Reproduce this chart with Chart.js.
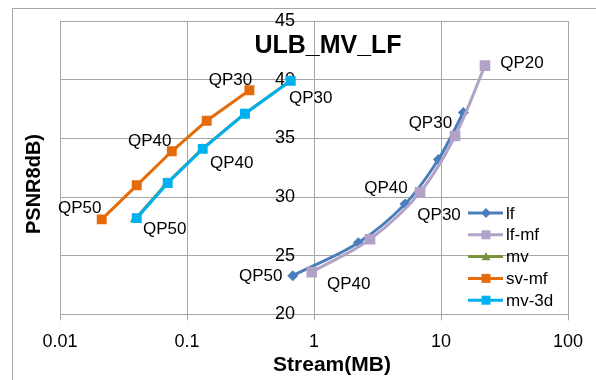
<!DOCTYPE html>
<html>
<head>
<meta charset="utf-8">
<script src="https://cdn.jsdelivr.net/npm/chart.js@4.4.0/dist/chart.umd.min.js"></script>
<style>
  html, body { margin: 0; padding: 0; background: #fff; }
  #wrap { width: 596px; height: 380px; }
</style>
</head>
<body>
<div id="wrap"><canvas id="rdChart" width="596" height="380"></canvas></div>
<script>
// values (stream in MB, PSNR in dB)
var lfStream = [0.68, 2.23, 5.21, 9.53, 15.0];
var lfPsnr = [23.3, 26.1, 29.4, 33.2, 37.2];
var lfmfStream = [0.96, 2.76, 6.84, 12.9, 22.2];
var lfmfPsnr = [23.6, 26.4, 30.4, 35.2, 41.2];
var mvStream = [0.039, 0.0695, 0.132, 0.284, 0.65];
var mvPsnr = [28.1, 31.2, 34.1, 37.1, 39.9];
var svmfStream = [0.0213, 0.0402, 0.0759, 0.143, 0.310];
var svmfPsnr = [28.1, 31.0, 33.9, 36.5, 39.1];
var mv3dStream = [0.0402, 0.0705, 0.133, 0.286, 0.656];
var mv3dPsnr = [28.2, 31.2, 34.1, 37.1, 39.9];

var lfQp = ['QP50', '', 'QP40', '', 'QP30'];
var lfmfQp = ['QP40', '', 'QP30', '', 'QP20'];
var svmfQp = ['QP50', '', 'QP40', '', 'QP30'];
var mv3dQp = ['QP50', '', 'QP40', '', 'QP30'];

var xTicks = [0.01, 0.1, 1, 10, 100];
var xTickLabels = ['0.01', '0.1', '1', '10', '100'];
var yTicks = [20, 25, 30, 35, 40, 45];

var chartTitle = 'ULB_MV_LF';
var xTitle = 'Stream(MB)';
var yTitle = 'PSNR8dB)';

function pts(xs, ys) {
  var out = [];
  for (var i = 0; i < xs.length; i++) out.push({ x: xs[i], y: ys[i] });
  return out;
}

var FONT = "'Liberation Sans', Arial, sans-serif";
var GRID = '#a6a6a6';

// offsets of the QP text from its point, in pixels
var qpOffsets = {
  'lf': [[-32, 1], null, [-19, -16], null, [-33, 11]],
  'lf-mf': [[37, 12], null, [19, 23], null, [37, -2]],
  'sv-mf': [[-22, -11], null, [-22, -10], null, [-19, -10]],
  'mv-3d': [[28, 11], null, [29, 14], null, [20, 17]]
};

var qpLabelPlugin = {
  id: 'qpLabels',
  afterDatasetsDraw: function (chart) {
    var ctx = chart.ctx;
    ctx.save();
    ctx.font = '17px ' + FONT;
    ctx.fillStyle = '#000';
    ctx.textAlign = 'center';
    ctx.textBaseline = 'middle';
    chart.data.datasets.forEach(function (ds, di) {
      if (!ds.qp) return;
      var meta = chart.getDatasetMeta(di);
      var offs = qpOffsets[ds.label];
      ds.qp.forEach(function (t, i) {
        if (!t || !offs[i]) return;
        var p = meta.data[i];
        ctx.fillText(t, p.x + offs[i][0], p.y + offs[i][1]);
      });
    });
    ctx.restore();
  }
};

function marker(ctx, style, x, y, r) {
  ctx.beginPath();
  if (style === 'rect') {
    ctx.rect(x - r, y - r, 2 * r, 2 * r);
  } else if (style === 'rectRot') {
    ctx.moveTo(x, y - r); ctx.lineTo(x + r, y); ctx.lineTo(x, y + r); ctx.lineTo(x - r, y);
    ctx.closePath();
  } else {
    ctx.moveTo(x, y - r); ctx.lineTo(x + r, y + r * 0.8); ctx.lineTo(x - r, y + r * 0.8);
    ctx.closePath();
  }
  ctx.fill();
}

var decorPlugin = {
  id: 'decor',
  beforeDraw: function (chart) {
    var ctx = chart.ctx;
    ctx.save();
    ctx.fillStyle = '#fff';
    ctx.fillRect(0, 0, chart.width, chart.height);
    ctx.strokeStyle = GRID;
    ctx.lineWidth = 1;
    ctx.strokeRect(12.5, 8.5, 620, 420);
    ctx.restore();
  },
  afterDraw: function (chart) {
    var ctx = chart.ctx;
    ctx.save();
    ctx.fillStyle = '#000';
    ctx.textAlign = 'center';
    ctx.textBaseline = 'alphabetic';
    ctx.font = 'bold 25px ' + FONT;
    ctx.fillText(chartTitle, 328, 53);
    ctx.font = 'bold 21px ' + FONT;
    ctx.fillText(xTitle, 332, 371);
    ctx.save();
    ctx.translate(34, 184);
    ctx.rotate(-Math.PI / 2);
    ctx.textBaseline = 'middle';
    ctx.font = 'bold 20px ' + FONT;
    ctx.fillText(yTitle, 0, 0);
    ctx.restore();

    // legend
    var lx = 468, ly = 213, step = 21.8;
    ctx.font = '17px ' + FONT;
    ctx.textAlign = 'left';
    ctx.textBaseline = 'middle';
    chart.data.datasets.forEach(function (ds, i) {
      var y = ly + i * step;
      ctx.strokeStyle = ds.borderColor;
      ctx.lineWidth = 3;
      ctx.beginPath();
      ctx.moveTo(lx, y);
      ctx.lineTo(lx + 35, y);
      ctx.stroke();
      ctx.fillStyle = ds.backgroundColor;
      marker(ctx, ds.pointStyle, lx + 18, y, ds.pointStyle === 'rectRot' ? 5 : 4.5);
      ctx.fillStyle = '#000';
      ctx.fillText(ds.label, lx + 38, y + 1);
    });
    ctx.restore();
  }
};

var ctx1 = document.getElementById('rdChart');
new Chart(ctx1, {
  type: 'scatter',
  data: {
    datasets: [{
      label: 'lf',
      data: pts(lfStream, lfPsnr),
      qp: lfQp,
      showLine: true,
      tension: 0.35,
      borderColor: '#4a7ebb',
      backgroundColor: '#4a7ebb',
      borderWidth: 3,
      pointStyle: 'rectRot',
      pointRadius: 5.5,
      pointBorderWidth: 0,
      order: 5
    }, {
      label: 'lf-mf',
      data: pts(lfmfStream, lfmfPsnr),
      qp: lfmfQp,
      showLine: true,
      tension: 0.35,
      borderColor: '#b3a2c7',
      backgroundColor: '#b3a2c7',
      borderWidth: 3,
      pointStyle: 'rect',
      pointRadius: 7.5,
      pointBorderWidth: 0,
      order: 4
    }, {
      label: 'mv',
      data: pts(mvStream, mvPsnr),
      showLine: true,
      borderColor: '#77933c',
      backgroundColor: '#77933c',
      borderWidth: 3,
      pointStyle: 'triangle',
      pointRadius: 6,
      pointBorderWidth: 0,
      order: 3
    }, {
      label: 'sv-mf',
      data: pts(svmfStream, svmfPsnr),
      qp: svmfQp,
      showLine: true,
      borderColor: '#e46c0a',
      backgroundColor: '#e46c0a',
      borderWidth: 3,
      pointStyle: 'rect',
      pointRadius: 7,
      pointBorderWidth: 0,
      order: 2
    }, {
      label: 'mv-3d',
      data: pts(mv3dStream, mv3dPsnr),
      qp: mv3dQp,
      showLine: true,
      borderColor: '#00b0f0',
      backgroundColor: '#00b0f0',
      borderWidth: 3,
      pointStyle: 'rect',
      pointRadius: 7,
      pointBorderWidth: 0,
      order: 1
    }]
  },
  options: {
    responsive: false,
    animation: false,
    layout: { padding: { left: 60, right: 28, top: 21, bottom: 16 } },
    plugins: {
      legend: { display: false },
      tooltip: { enabled: false }
    },
    scales: {
      x: {
        type: 'logarithmic',
        min: 0.01,
        max: 100,
        afterBuildTicks: function (scale) {
          scale.ticks = xTicks.map(function (v) { return { value: v }; });
        },
        grid: { color: GRID, tickLength: 6, drawTicks: true },
        border: { color: GRID },
        ticks: {
          padding: 11,
          color: '#000',
          font: { family: FONT, size: 18 },
          maxRotation: 0,
          callback: function (v) {
            var i = xTicks.indexOf(v);
            return i >= 0 ? xTickLabels[i] : '';
          }
        }
      },
      y: {
        type: 'linear',
        // labels sit just left of the x = 1 line, which is drawn by the x grid
        position: { x: 0.71 },
        min: 20,
        max: 45,
        afterBuildTicks: function (scale) {
          scale.ticks = yTicks.map(function (v) { return { value: v }; });
        },
        afterFit: function (scale) {
          scale.width = 0;
          scale.paddingTop = 0;
          scale.paddingBottom = 0;
        },
        grid: { color: GRID, drawTicks: false },
        border: { display: false },
        ticks: {
          padding: 0,
          color: '#000',
          font: { family: FONT, size: 18 }
        }
      }
    }
  },
  plugins: [decorPlugin, qpLabelPlugin]
});
</script>
</body>
</html>
